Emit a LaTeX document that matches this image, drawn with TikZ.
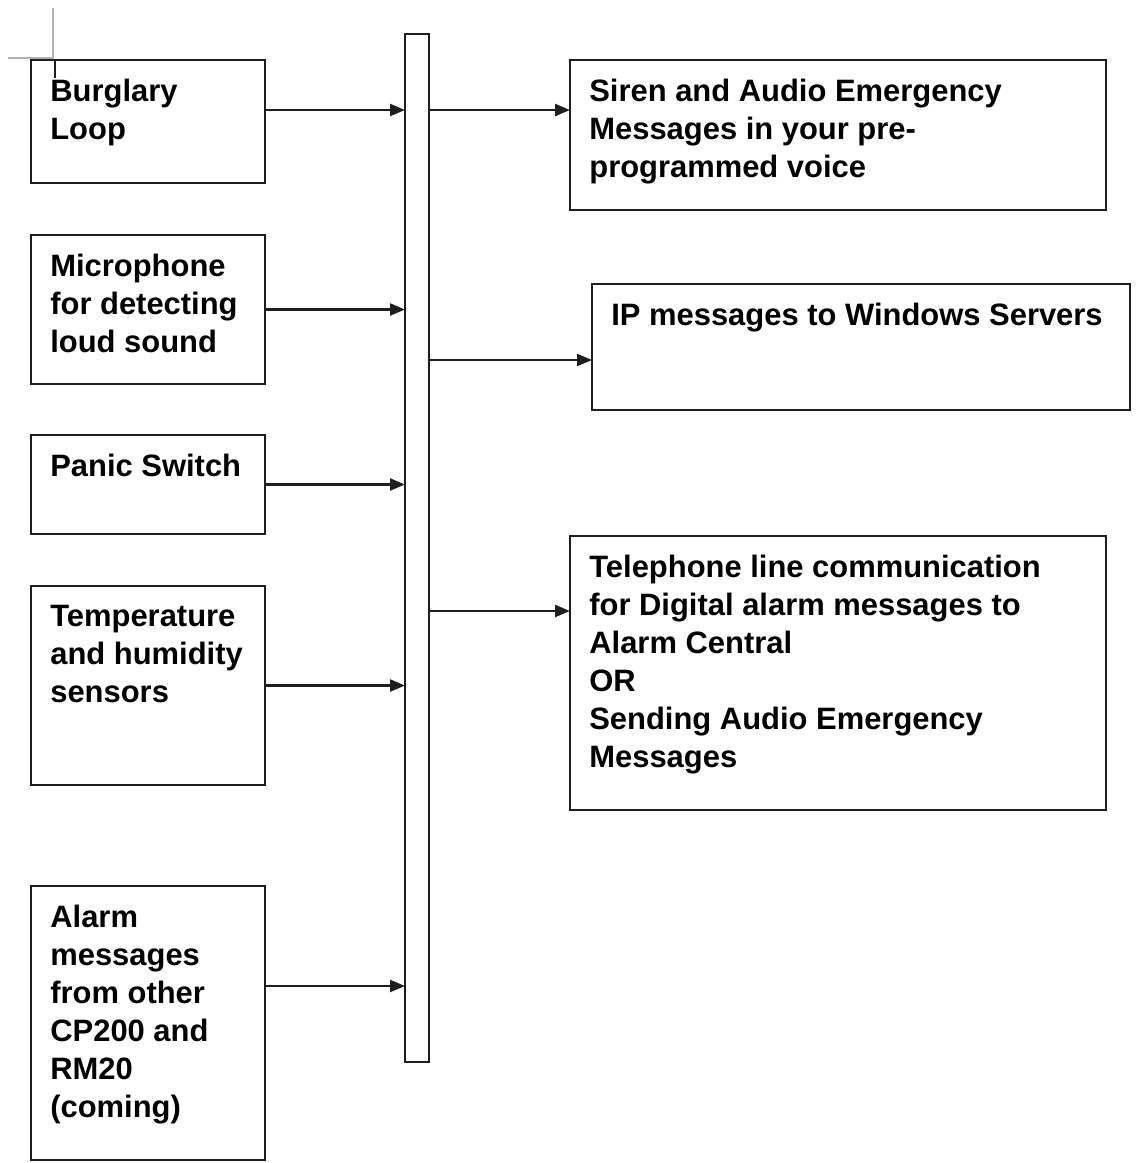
\documentclass[tikz,border=0pt]{standalone}
\usepackage{fontspec}
\setmainfont{Liberation Sans}
\usetikzlibrary{arrows.meta, positioning, calc}
\definecolor{lijn}{RGB}{30,30,30}

\begin{document}
\begin{tikzpicture}[
        blok/.style={
            draw=lijn,
            line width=1.3pt,
            inner sep=0pt,
            outer sep=0pt
        },
        tekst/.style={
            anchor=north west,
            inner sep=0pt,
            align=left,
            font=\fontsize{17.6}{21.6}\selectfont\bfseries
        },
        pijl/.style={
            draw=lijn,
            line width=1.3pt,
            -{Triangle[length=0.3cm,width=0.24cm]}
        }
    ]
        \useasboundingbox (0,0) rectangle (22.72,-23.26);
        % markering linksboven
        \draw[gray!60, line width=0.8pt] (1.06,-0.16) -- (1.06,-1.16) -- (0.16,-1.16);
        \draw[lijn, line width=0.8pt] (1.10,-1.20) -- (1.10,-1.56);

        % verzamelbalk
        \node[blok, minimum width=0.48cm, minimum height=20.56cm] (bus) at (8.34,-10.96) {};

        % ingangen
        \node[blok, minimum width=4.68cm, minimum height=2.46cm] (burglary) at (2.96,-2.43) {};
        \node[blok, minimum width=4.68cm, minimum height=2.98cm] (microphone) at (2.96,-6.19) {};
        \node[blok, minimum width=4.68cm, minimum height=1.98cm] (panic) at (2.96,-9.69) {};
        \node[blok, minimum width=4.68cm, minimum height=3.98cm] (temperature) at (2.96,-13.71) {};
        \node[blok, minimum width=4.68cm, minimum height=5.48cm] (alarm) at (2.96,-20.46) {};

        \node[tekst] (t-burglary) at ($(burglary.north west)+(0.38,-0.37)$) {Burglary\\Loop};
        \node[tekst] (t-microphone) at ($(microphone.north west)+(0.38,-0.37)$) {Microphone\\for detecting\\loud sound};
        \node[tekst] (t-panic) at ($(panic.north west)+(0.38,-0.37)$) {Panic Switch};
        \node[tekst] (t-temperature) at ($(temperature.north west)+(0.38,-0.37)$) {Temperature\\and humidity\\sensors};
        \node[tekst] (t-alarm) at ($(alarm.north west)+(0.38,-0.37)$) {Alarm\\messages\\from other\\CP200 and\\RM20\\(coming)};

        % uitgangen
        \node[blok, minimum width=10.72cm, minimum height=3.00cm] (siren) at (16.76,-2.70) {};
        \node[blok, minimum width=10.76cm, minimum height=2.52cm] (ip) at (17.22,-6.94) {};
        \node[blok, minimum width=10.72cm, minimum height=5.48cm] (telephone) at (16.76,-13.46) {};

        \node[tekst] (t-siren) at ($(siren.north west)+(0.38,-0.37)$) {Siren and Audio Emergency\\Messages in your pre-\\programmed voice};
        \node[tekst] (t-ip) at ($(ip.north west)+(0.38,-0.37)$) {IP messages to Windows Servers};
        \node[tekst] (t-telephone) at ($(telephone.north west)+(0.38,-0.37)$) {Telephone line communication\\for Digital alarm messages to\\Alarm Central\\OR\\Sending Audio Emergency\\Messages};

        % pijlen
        \foreach \naam/\dy in {burglary/0.23, microphone/0, panic/0, temperature/0, alarm/0.74} {
            \coordinate (p) at ([yshift=\dy cm]\naam.east);
            \draw[pijl] (p) -- (p -| bus.west);
        }
        \foreach \naam/\dy in {siren/0.50, ip/-0.26, telephone/1.24} {
            \coordinate (p) at ([yshift=\dy cm]\naam.west);
            \draw[pijl] (p -| bus.east) -- (p);
        }
    \end{tikzpicture}
\end{document}
